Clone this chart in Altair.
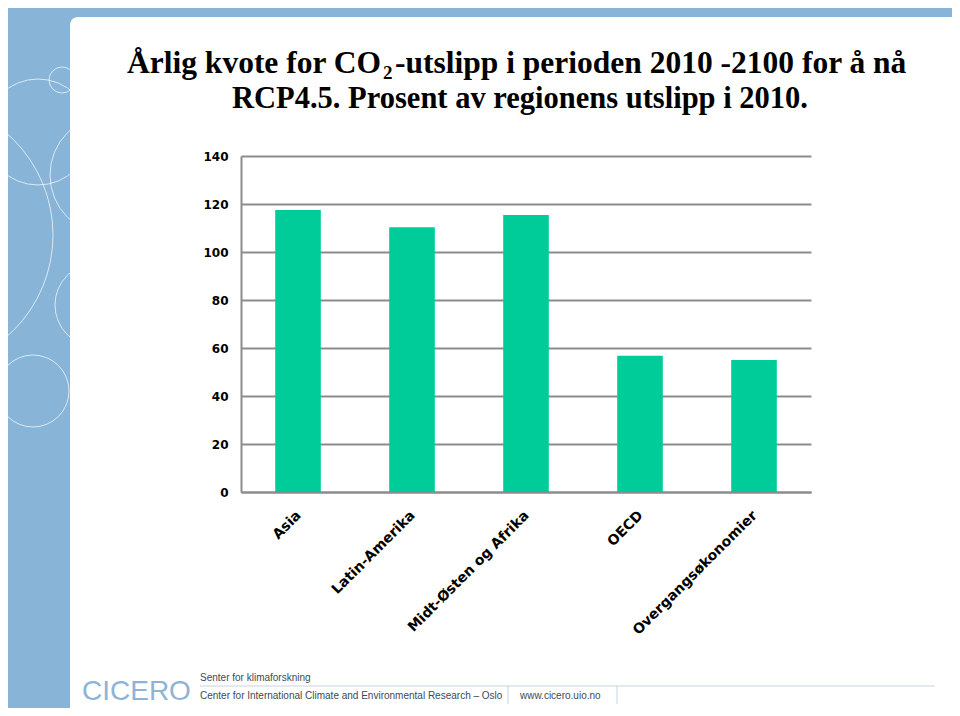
import altair as alt
import pandas as pd

# ---------------- data ----------------
regions = ["Asia", "Latin-Amerika", "Midt-Østen og Afrika", "OECD", "Overgangsøkonomier"]
quota_pct = [117.5, 110.3, 115.4, 56.8, 55.0]
y_ticks = [0, 20, 40, 60, 80, 100, 120, 140]

title_line1_a = "Årlig kvote for CO"
title_sub = "2"
title_line1_b = "-utslipp i perioden 2010 -2100 for å nå"
title_line2 = "RCP4.5. Prosent av regionens utslipp i 2010."
footer_logo = "CICERO"
footer_l1 = "Senter for klimaforskning"
footer_l2 = "Center for International Climate and Environmental Research – Oslo"
footer_url = "www.cicero.uio.no"

df = pd.DataFrame({"region": regions, "value": quota_pct})

# ---------------- layout helpers (page pixel -> plot coords) ----------------
OX, OY = 241, 156


def px(p):
    return p - OX


def py(q):
    return q - OY


one = alt.Data(values=[{"k": 0}])
BLUE = "#88B5D7"
SERIF = "Liberation Serif, Times New Roman, serif"
SANS = "Liberation Sans, Arial, sans-serif"


def rect(x0, y0, x1, y1, color, **kw):
    return alt.Chart(one).mark_rect(color=color, **kw).encode(
        x=alt.value(px(x0)), x2=alt.value(px(x1)),
        y=alt.value(py(y0)), y2=alt.value(py(y1)))


def ring(cx, cy, r):
    return alt.Chart(one).mark_point(
        shape="circle", filled=False, stroke="white", strokeWidth=1,
        opacity=0.7, size=(2 * r) ** 2).encode(
        x=alt.value(px(cx)), y=alt.value(py(cy)))


def text(s, x, y, size, font, color="black", weight="normal", align="left"):
    return alt.Chart(one).mark_text(
        text=s, fontSize=size, font=font, color=color, fontWeight=weight,
        align=align, baseline="alphabetic").encode(
        x=alt.value(px(x)), y=alt.value(py(y)))


def hline(x0, x1, y, color, w=1):
    return alt.Chart(one).mark_rule(color=color, strokeWidth=w).encode(
        x=alt.value(px(x0)), x2=alt.value(px(x1)), y=alt.value(py(y)))


def vline(x, y0, y1, color, w=1):
    return alt.Chart(one).mark_rule(color=color, strokeWidth=w).encode(
        x=alt.value(px(x)), y=alt.value(py(y0)), y2=alt.value(py(y1)))


deco = [
    rect(0, 0, 956, 17, BLUE),
    rect(0, 0, 70, 716, BLUE),
    ring(62, 80, 13),
    ring(38, 132, 53),
    ring(-82, 235, 135),
    ring(110, 175, 60),
    ring(97, 305, 42),
    ring(33, 391, 36),
    rect(70, 17, 198, 470, "white"),
    rect(70, 17, 86, 33, BLUE),
    rect(70, 17, 200, 60, "white", cornerRadiusTopLeft=8),
    # title
    text(title_line1_a, 381, 73, 31.5, SERIF, weight="bold", align="right"),
    text(title_sub, 383, 79, 19, SERIF, weight="bold"),
    text(title_line1_b, 395, 73, 31.5, SERIF, weight="bold"),
    text(title_line2, 520, 108, 30.5, SERIF, weight="bold", align="center"),
    # footer
    text(footer_logo, 82, 700, 28, SANS, color="#8DB4D6"),
    text(footer_l1, 200, 681, 10, SANS, color="#3c4a57"),
    text(footer_l2, 200, 699, 10, SANS, color="#3c4a57"),
    text(footer_url, 520, 699, 10, SANS, color="#3c4a57"),
    hline(200, 935, 686, "#c8d5df", 1.2),
    vline(508, 686, 704, "#c8d5df", 1),
    vline(617, 686, 704, "#c8d5df", 1),
]

GRID = "#8c8c8c"
bars = alt.Chart(df).mark_bar(color="#00CC99").encode(
    x=alt.X("region:N", sort=regions,
            scale=alt.Scale(paddingInner=0.6, paddingOuter=0.3),
            axis=alt.Axis(title=None, labelAngle=-45, labelFont="DejaVu Sans",
                          labelFontSize=14, labelFontWeight="bold",
                          labelColor="black", labelPadding=16, labelOffset=-4,
                          ticks=False, domainColor=GRID, domainWidth=2,
                          labelOverlap=False, labelLimit=300, grid=False)),
    y=alt.Y("value:Q", scale=alt.Scale(domain=[0, 140], nice=False),
            axis=alt.Axis(title=None, values=y_ticks, labelFont="DejaVu Sans",
                          labelFontSize=12, labelFontWeight="bold",
                          labelColor="black", labelPadding=13, ticks=False,
                          domainColor=GRID, domainWidth=2, grid=True,
                          gridColor=GRID, gridWidth=2)),
)

chart = alt.layer(*deco, bars).properties(
    width=570, height=336,
    autosize=alt.AutoSizeParams(type="none"),
    padding={"left": 233, "top": 148, "right": 141, "bottom": 216},
    background="white",
).configure_view(stroke=None)

chart.save("out.html", embed_options={"renderer": "svg", "actions": False})
